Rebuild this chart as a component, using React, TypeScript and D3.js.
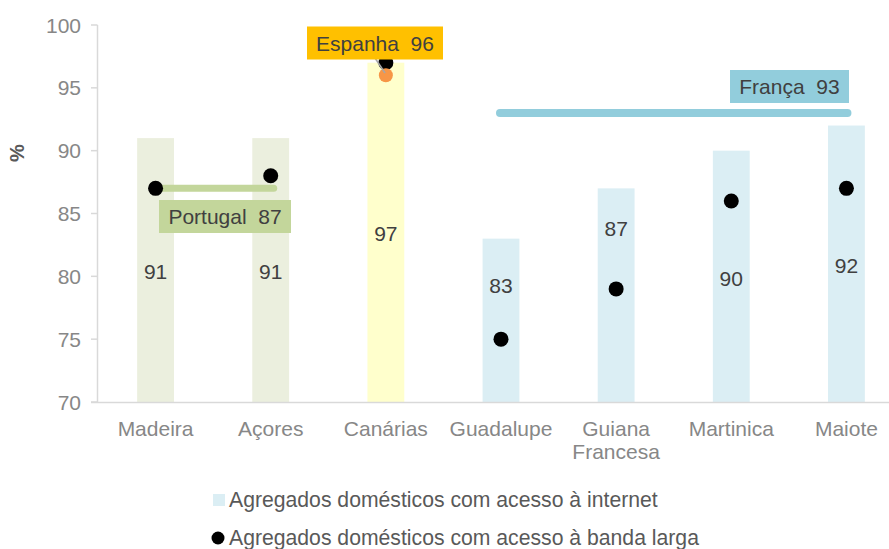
import React from "react";
import * as d3 from "d3";

const categories = ["Madeira", "Açores", "Canárias", "Guadalupe", "Guiana Francesa", "Martinica", "Maiote"];
const internetValues = [91, 91, 97, 83, 87, 90, 92];
const broadbandValues = [87, 88, 97, 75, 79, 86, 87];
const barLabelAt = [80.4, 80.4, 83.45, 79.3, 83.85, 79.87, 80.9];
const barGroups = ["pt", "pt", "es", "fr", "fr", "fr", "fr"];
const yTicks = [70, 75, 80, 85, 90, 95, 100];
const portugalValue = 87;
const espanhaValue = 96;
const francaValue = 93;

const W = 889;
const H = 549;
const FONT = "'Liberation Sans', Arial, Helvetica, sans-serif";

const barColors: Record<string, string> = { pt: "#EBEFDE", es: "#FFFFCC", fr: "#DBEEF4" };

export default function App() {
  const x = d3.scaleBand<string>().domain(categories).range([98, 904]).paddingInner(0.68).paddingOuter(0.34);
  const y = d3.scaleLinear().domain([70, 100]).range([402, 25]);
  const cx = (c: string) => (x(c) as number) + x.bandwidth() / 2;

  const ptX1 = cx("Madeira");
  const ptX2 = cx("Açores");
  const frX1 = cx("Guadalupe");
  const frX2 = cx("Maiote");
  const esX = cx("Canárias");

  const labelBox = (label: string, value: number, bx: number, by: number, w: number, h: number, fill: string) => (
    <g>
      <rect x={bx - w / 2} y={by - h / 2} width={w} height={h} fill={fill} />
      <text x={bx} y={by} dy="0.36em" textAnchor="middle" fontSize={21} fill="#404040" fontFamily={FONT} style={{ whiteSpace: "pre" }}>
        {label + "\u00a0\u00a0" + value}
      </text>
    </g>
  );

  return (
    <svg width={W} height={H} style={{ position: "absolute", left: 0, top: 0, background: "#fff" }} fontFamily={FONT}>
      {/* bars */}
      {categories.map((c, i) => (
        <rect key={c} x={x(c)} y={y(internetValues[i])} width={x.bandwidth()} height={y(70) - y(internetValues[i])} fill={barColors[barGroups[i]]} />
      ))}
      {/* axes */}
      <line x1={97.5} x2={97.5} y1={y(100)} y2={y(70)} stroke="#D9D9D9" strokeWidth={1.5} />
      <line x1={91} x2={W} y1={402.5} y2={402.5} stroke="#D9D9D9" strokeWidth={1.5} />
      {yTicks.map((t) => (
        <g key={t}>
          <line x1={91} x2={97.5} y1={y(t)} y2={y(t)} stroke="#D9D9D9" strokeWidth={1.5} />
          <text x={81} y={y(t)} dy="0.36em" textAnchor="end" fontSize={21} fill="#878787">
            {t}
          </text>
        </g>
      ))}
      <text transform={`translate(24,153) rotate(-90)`} textAnchor="middle" fontSize={20} fontWeight="bold" fill="#595959">
        %
      </text>
      {categories.map((c) => {
        const parts = c === "Guiana Francesa" ? ["Guiana", "Francesa"] : [c];
        return (
          <text key={c} x={cx(c)} y={428} textAnchor="middle" fontSize={21} fill="#878787">
            {parts.map((p, k) => (
              <tspan key={k} x={cx(c)} dy={k === 0 ? "0.36em" : 23}>
                {p}
              </tspan>
            ))}
          </text>
        );
      })}
      {/* bar labels */}
      {categories.map((c, i) => (
        <text key={c} x={cx(c)} y={y(barLabelAt[i])} dy="0.36em" textAnchor="middle" fontSize={21} fill="#404040">
          {internetValues[i]}
        </text>
      ))}
      {/* reference lines */}
      <line x1={ptX1} x2={ptX2 + 3} y1={y(portugalValue)} y2={y(portugalValue)} stroke="#C3D69B" strokeWidth={7} strokeLinecap="round" />
      <line x1={frX1 - 1} x2={frX2 + 1} y1={y(francaValue)} y2={y(francaValue)} stroke="#92CDDC" strokeWidth={8} strokeLinecap="round" />
      {/* broadband dots */}
      {categories.map((c, i) => (
        <circle key={c} cx={cx(c)} cy={y(broadbandValues[i])} r={7.5} fill="#000" />
      ))}
      <circle cx={esX} cy={y(espanhaValue)} r={7} fill="#F79646" />
      <line x1={375} y1={58} x2={385} y2={73} stroke="#A6A6A6" strokeWidth={1.5} />
      {labelBox("Portugal", portugalValue, 225, 216.5, 132, 33, "#C3D69B")}
      {labelBox("Espanha", espanhaValue, 375, 43, 136, 33, "#FFC000")}
      {labelBox("França", francaValue, 789.5, 86.5, 119, 33, "#92CDDC")}
      {/* legend */}
      <rect x={213} y={494} width={12} height={12} fill="#DBEEF4" />
      <text x={229} y={499} dy="0.36em" fontSize={21.2} fill="#595959">
        Agregados domésticos com acesso à internet
      </text>
      <circle cx={218} cy={538} r={6.5} fill="#000" />
      <text x={229} y={537} dy="0.36em" fontSize={21.2} fill="#595959">
        Agregados domésticos com acesso à banda larga
      </text>
    </svg>
  );
}
